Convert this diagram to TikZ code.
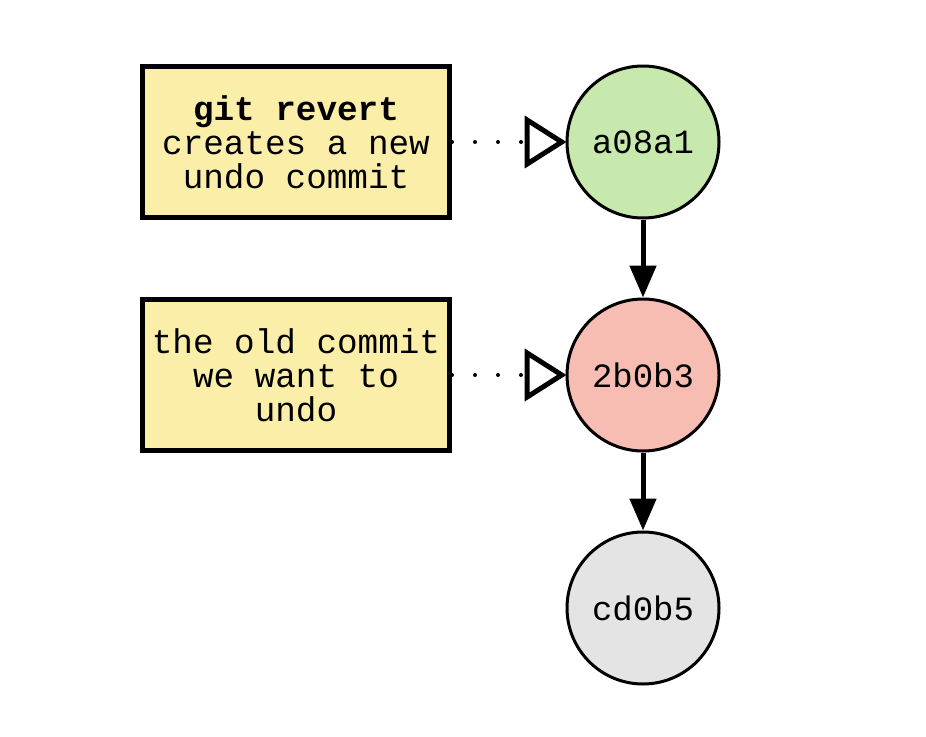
\documentclass[tikz,border=0pt]{standalone}
\usepackage{fontspec}
\setmonofont{Liberation Mono}
\usetikzlibrary{arrows.meta}
\definecolor{noteyellow}{HTML}{FAEEA8}
\definecolor{cgreen}{HTML}{C8E9AE}
\definecolor{cred}{HTML}{F7BCB2}
\definecolor{cgrey}{HTML}{E4E4E4}
\tikzset{
  note/.style={draw=black, line width=5pt, fill=noteyellow, minimum width=307pt, minimum height=151pt, inner sep=0pt, align=center, font=\fontsize{34.3}{34}\selectfont\ttfamily},
  commit/.style={circle, draw=black, line width=3pt, minimum size=152pt, inner sep=0pt, font=\fontsize{34}{34}\selectfont\ttfamily},
  pointer/.style={line width=4pt, line cap=round, dash pattern=on 0pt off 23pt, -{Triangle[open, length=42pt, width=52pt, line width=5pt, line cap=butt]}},
  parent/.style={line width=5pt, -{Triangle[length=32pt, width=26pt]}}
}
\begin{document}
\begin{tikzpicture}[x=1pt, y=-1pt]
\useasboundingbox (0,0) rectangle (926,736);
\node[commit, fill=cgreen] (a) at (643,142) {a08a1};
\node[commit, fill=cred] (b) at (643,375) {2b0b3};
\node[commit, fill=cgrey] (c) at (643,608) {cd0b5};
\node[note] (n1) at (296,142) {\textbf{git revert}\\creates a new\\undo commit};
\node[note] (n2) at (296,375) {the old commit\\we want to\\undo};
\draw[pointer] (n1.east) -- ([xshift=1pt]a.west);
\draw[pointer] (n2.east) -- ([xshift=1pt]b.west);
\draw[parent] (a.south) -- (b.north);
\draw[parent] (b.south) -- (c.north);
\end{tikzpicture}
\end{document}
